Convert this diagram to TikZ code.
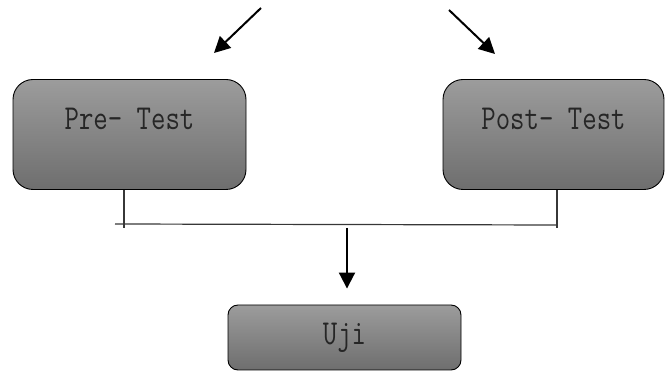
\documentclass[tikz,border=0pt]{standalone}
\usepackage{graphicx}
\usetikzlibrary{arrows.meta}

\definecolor{boxtop}{RGB}{156,156,156}
\definecolor{boxbot}{RGB}{110,110,110}
\definecolor{linegray}{RGB}{55,55,55}
\newcommand{\tallword}[1]{\scalebox{1}[1.25]{#1}}

\tikzset{
  testbox/.style={draw=black, line width=0.9pt, top color=boxtop, bottom color=boxbot,
    rounded corners=20pt, minimum width=233pt, minimum height=110pt, inner sep=0pt},
  lbl/.style={font=\ttfamily\fontsize{28}{28}\selectfont, text=black!85},
  joinline/.style={linegray, line width=1.2pt},
  bigarrow/.style={line width=2pt, -{Triangle[length=16pt,width=16pt]}},
}

\begin{document}
\begin{tikzpicture}[x=1pt, y=-1pt]
  \useasboundingbox (0,0) rectangle (665,371);
  % boxes
  \node[testbox] (pre) at (129.5,134.5) {};
  \node[testbox, minimum width=221pt] (post) at (553.5,134.5) {};
  \node[testbox, rounded corners=10pt, minimum width=233pt, minimum height=65pt] (uji) at (344.5,337.5) {};
  \node[lbl] (pretxt) at ([yshift=-40pt]pre.north) {\tallword{Pre- Test}};
  \node[lbl] (posttxt) at ([yshift=-40pt]post.north) {\tallword{Post- Test}};
  \node[lbl] (ujitxt) at (uji.center) {\tallword{Uji}};
  % arrows at the top
  \coordinate (la) at (261,8);
  \coordinate (lb) at (214,53);
  \coordinate (ra) at (449,10);
  \coordinate (rb) at (495,54);
  \draw[bigarrow] (la) -- (lb);
  \draw[bigarrow] (ra) -- (rb);
  % joining line
  \coordinate (jl) at (124,228);
  \coordinate (jr) at (557,228);
  \draw[joinline] (pre.south -| jl) -- (jl);
  \draw[joinline] (post.south -| jr) -- (jr);
  \draw[joinline] (115,224) -- (557,225);
  % down to Uji
  \coordinate (dn) at (347,228);
  \draw[bigarrow] (dn) -- ([yshift=16pt]uji.north -| dn);
\end{tikzpicture}
\end{document}
